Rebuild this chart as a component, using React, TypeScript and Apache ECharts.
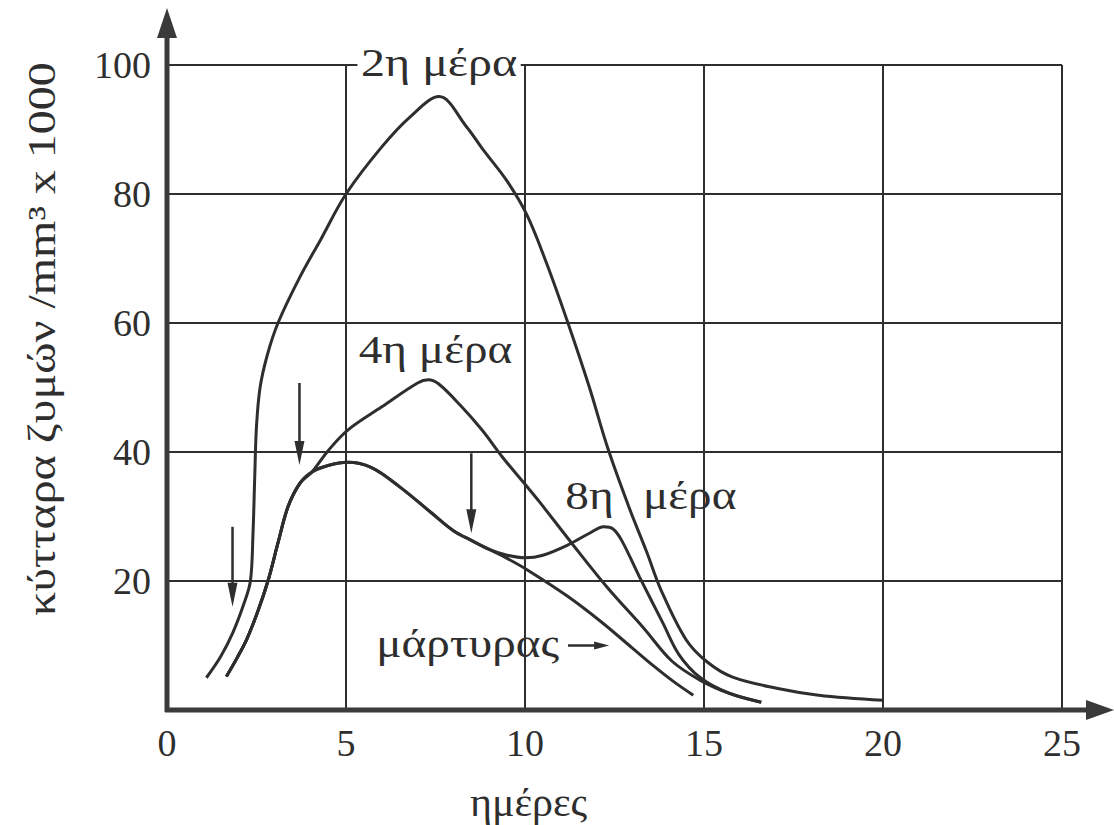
import React, { useEffect, useRef } from "react";
import * as echarts from "echarts";

// Axis ticks
const xTicks = [0, 5, 10, 15, 20, 25];
const yTicks = [0, 20, 40, 60, 80, 100];

// Rise shared by the control and the 4th-day curve (days, cells/mm³ x 1000)
const riseShared: number[][] = [
  [1.66, 5.2], [1.95, 8], [2.23, 11], [2.55, 15.5], [2.83, 20.2],
  [3.1, 25.9], [3.38, 31.5], [3.72, 35.2], [4.05, 36.9],
];

// Control culture (μάρτυρας)
const controlTail: number[][] = [
  [4.5, 37.9], [5.05, 38.4], [5.7, 37.6], [6.5, 34.6], [7.4, 30.5],
  [8.0, 27.8],
];
const controlEnd: number[][] = [
  [8.5, 26.3], [9.0, 24.9], [9.5, 23.5], [10.1, 21.6], [11.2, 17.6],
  [12.1, 13.8], [13.0, 9.6], [13.6, 6.8], [14.2, 4.2], [14.7, 2.3],
];

// Addition on the 2nd day
const day2: number[][] = [
  [1.1, 5], [1.5, 8.3], [1.84, 12], [2.15, 16.5], [2.33, 20], [2.4, 27],
  [2.45, 36], [2.5, 44], [2.6, 50], [2.8, 55], [3.1, 60], [3.7, 67],
  [4.3, 73], [5.0, 80], [6.0, 87.3], [6.8, 92], [7.6, 95.1], [8.37, 90.4],
  [8.84, 86.8], [9.5, 82], [10.05, 76.8], [10.6, 69.3], [11.2, 60],
  [11.8, 50], [12.3, 40.8], [12.9, 31.5], [13.4, 24.5], [13.8, 18.6],
  [14.5, 10.9], [15.1, 7.4], [15.8, 5.1], [17.1, 3.3], [18.2, 2.3], [20, 1.5],
];

// Addition on the 4th day
const day4Branch: number[][] = [
  [4.5, 40.2], [5.05, 43.4], [6.0, 47], [7.0, 50.7], [7.3, 51.2],
  [7.6, 50.5], [8.2, 47.2], [8.8, 43.4], [9.4, 39], [10.06, 34.6],
  [10.4, 32.3], [11.3, 25.9], [12.3, 19], [13.3, 12.8], [14.1, 7.6],
  [14.9, 4.6], [15.7, 2.6], [16.6, 1.2],
];

// Addition on the 8th day
const day8Branch: number[][] = [
  [8.5, 26.3], [9.0, 24.9], [9.5, 24.0], [10.0, 23.6], [10.5, 24.0],
  [11.2, 25.6], [11.8, 27.4], [12.2, 28.4], [12.45, 28.1], [12.7, 26.3],
  [13.2, 20.6], [13.85, 13.5], [14.3, 8.6], [14.9, 5.0], [15.7, 2.6],
  [16.6, 1.2],
];

// Downward arrows marking the addition days: [day, from, to]
const additionArrows: number[][] = [
  [1.83, 28.4, 16],
  [3.7, 50.7, 38],
  [8.5, 39.8, 27.4],
];

// Curve captions: [text, day, value]
const captions: [string, number, number][] = [
  ["4η μέρα", 7.5, 56],
  ["8η", 11.8, 33.3],
  ["μέρα", 14.6, 33.3],
  ["μάρτυρας", 8.4, 10.4],
];
const topCaption: [string, number, number] = ["2η μέρα", 7.6, 100.3];
const controlPointer: number[][] = [[11.2, 10], [12.35, 10]];

const FONT = "'Liberation Serif', 'DejaVu Serif', serif";
const INK = "#2e2e2e";

export default function App() {
  const ref = useRef<HTMLDivElement>(null);

  useEffect(() => {
    const el = ref.current!;
    const chart = echarts.init(el, null, { renderer: "svg" });

    const lineSeries = (name: string, data: number[][]) => ({
      name,
      type: "line",
      data,
      smooth: 0.35,
      showSymbol: false,
      symbol: "none",
      lineStyle: { color: INK, width: 3 },
      z: 3,
    });

    chart.setOption({
      animation: false,
      backgroundColor: "#ffffff",
      grid: { left: 167, right: 52, top: 65, bottom: 115 },
      xAxis: {
        type: "value",
        min: xTicks[0],
        max: xTicks[xTicks.length - 1],
        interval: 5,
        axisLine: { show: false },
        axisTick: { show: false },
        axisLabel: { fontSize: 38, fontFamily: FONT, color: INK, margin: 14 },
        splitLine: { show: true, lineStyle: { color: INK, width: 2 } },
      },
      yAxis: {
        type: "value",
        min: yTicks[0],
        max: yTicks[yTicks.length - 1],
        interval: 20,
        axisLine: { show: false },
        axisTick: { show: false },
        axisLabel: {
          fontSize: 38,
          fontFamily: FONT,
          color: INK,
          margin: 16,
          formatter: (v: number) => (v === 0 ? "" : String(v)),
        },
        splitLine: { show: true, lineStyle: { color: INK, width: 2 } },
      },
      series: [
        lineSeries("2η μέρα", day2),
        lineSeries("4η μέρα", [...riseShared, ...day4Branch]),
        lineSeries("μάρτυρας", [...riseShared, ...controlTail, ...controlEnd]),
        lineSeries("8η μέρα", [...riseShared, ...controlTail, ...day8Branch]),
      ],
    });

    const px = (p: number[]) =>
      chart.convertToPixel({ gridIndex: 0 }, p) as number[];

    const [ox, oy] = px([0, 0]);
    const [, ty] = px([0, 100]);
    const [rx] = px([25, 0]);

    const graphics: any[] = [];

    // Axes with arrow heads
    graphics.push({
      type: "line",
      shape: { x1: ox, y1: oy + 2, x2: ox, y2: ty - 32 },
      style: { stroke: "#3a3a3a", lineWidth: 5 },
      z: 10,
    });
    graphics.push({
      type: "polygon",
      shape: { points: [[ox, ty - 57], [ox - 10, ty - 27], [ox + 10, ty - 27]] },
      style: { fill: "#3a3a3a" },
      z: 10,
    });
    graphics.push({
      type: "line",
      shape: { x1: ox - 2, y1: oy, x2: rx + 30, y2: oy },
      style: { stroke: "#3a3a3a", lineWidth: 5 },
      z: 10,
    });
    graphics.push({
      type: "polygon",
      shape: { points: [[rx + 52, oy], [rx + 24, oy - 10], [rx + 24, oy + 10]] },
      style: { fill: "#3a3a3a" },
      z: 10,
    });

    // Addition arrows
    additionArrows.forEach(([d, from, to]) => {
      const [x1, y1] = px([d, from]);
      const [, y2] = px([d, to]);
      graphics.push({
        type: "line",
        shape: { x1, y1, x2: x1, y2: y2 - 20 },
        style: { stroke: INK, lineWidth: 2.5 },
        z: 10,
      });
      graphics.push({
        type: "polygon",
        shape: { points: [[x1, y2], [x1 - 5, y2 - 24], [x1 + 5, y2 - 24]] },
        style: { fill: INK },
        z: 10,
      });
    });

    // Pointer after "μάρτυρας"
    {
      const [x1, y1] = px(controlPointer[0]);
      const [x2] = px(controlPointer[1]);
      graphics.push({
        type: "line",
        shape: { x1, y1, x2: x2 - 12, y2: y1 },
        style: { stroke: INK, lineWidth: 2.5 },
        z: 10,
      });
      graphics.push({
        type: "polygon",
        shape: { points: [[x2, y1], [x2 - 15, y1 - 4], [x2 - 15, y1 + 4]] },
        style: { fill: INK },
        z: 10,
      });
    }

    // Captions (the serif Greek is set slightly wide)
    const textEl = (
      text: string,
      x: number,
      y: number,
      size: number,
      stretch: number,
      extra: any = {}
    ) => ({
      type: "text",
      x,
      y,
      scaleX: stretch,
      style: {
        text,
        fill: INK,
        font: `${size}px ${FONT}`,
        align: "center",
        verticalAlign: "middle",
        textAlign: "center",
        textVerticalAlign: "middle",
        ...extra,
      },
      z: 12,
    });

    {
      const [x, y] = px([topCaption[1], topCaption[2]]);
      graphics.push(
        textEl(topCaption[0], x, y, 40, 1.2, {
          backgroundColor: "#ffffff",
          padding: [0, 3, 0, 3],
        })
      );
    }
    captions.forEach(([t, d, v]) => {
      const [x, y] = px([d, v]);
      graphics.push(textEl(t, x, y, 40, 1.18));
    });

    // Axis titles
    {
      const [x] = px([10.1, 0]);
      graphics.push(textEl("ημέρες", x, oy + 92, 40, 1.05));
      const [, y] = px([0, 57.5]);
      graphics.push({
        type: "text",
        x: ox - 125,
        y,
        rotation: Math.PI / 2,
        scaleX: 1.2,
        style: {
          text: "κύτταρα ζυμών /mm³ x 1000",
          fill: INK,
          font: `40px ${FONT}`,
          align: "center",
          verticalAlign: "middle",
          textAlign: "center",
          textVerticalAlign: "middle",
        },
        z: 12,
      });
    }

    chart.setOption({ graphic: graphics });

    return () => chart.dispose();
  }, []);

  return (
    <div
      ref={ref}
      style={{
        position: "fixed",
        left: 0,
        top: 0,
        width: 1114,
        height: 825,
        background: "#ffffff",
      }}
    />
  );
}
